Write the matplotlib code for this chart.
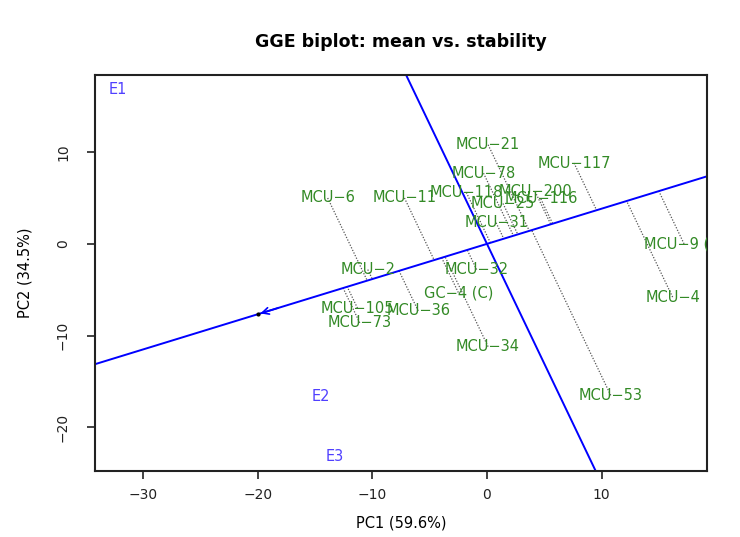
#!/usr/bin/env python3

import matplotlib
matplotlib.use("Agg")
import matplotlib.pyplot as plt
import numpy as np

# genotype scores (PC1, PC2)
genotypes = ["MCU-21", "MCU-78", "MCU-117", "MCU-6", "MCU-11", "MCU-118",
             "MCU-200", "MCU-116", "MCU-25", "MCU-31", "MCU-9 (C)", "MCU-4",
             "MCU-53", "MCU-2", "MCU-32", "GC-4 (C)", "MCU-105", "MCU-36",
             "MCU-73", "MCU-34"]
gen_pc1 = [0.1, -0.3, 7.6, -13.9, -7.2, -1.8, 4.2, 4.7, 1.4, 0.8, 17.2, 16.2,
           10.8, -10.4, -0.9, -2.5, -11.3, -6.0, -11.1, 0.1]
gen_pc2 = [10.8, 7.7, 8.8, 5.0, 5.0, 5.6, 5.7, 4.9, 4.4, 2.3, 0.0, -5.8,
           -16.5, -2.8, -2.8, -5.3, -7.0, -7.3, -8.6, -11.2]

# environment scores
environments = ["E1", "E2", "E3"]
env_pc1 = [-32.2, -14.5, -13.3]
env_pc2 = [16.8, -16.6, -23.2]

xticks = [-30, -20, -10, 0, 10]
yticks = [-20, -10, 0, 10]

GREEN = "#338a26"
BLUE = "#0000ff"
ENVCOL = "#5040ff"


def main():
    fig = plt.figure(figsize=(7.4, 5.37), dpi=100)
    ax = fig.add_axes([0.1284, 0.1229, 0.827, 0.7374])

    ax.set_xlim(-34.2, 19.2)
    ax.set_ylim(-24.75, 18.4)

    gx = np.array(gen_pc1)
    gy = np.array(gen_pc2)

    # average environment coordinate -> AEC axis
    mx = np.mean(env_pc1)
    my = np.mean(env_pc2)
    u = np.array([mx, my]) / np.hypot(mx, my)

    ax.axline((0, 0), (mx, my), color=BLUE, lw=1.4, zorder=2)
    ax.axline((0, 0), (-my, mx), color=BLUE, lw=1.4, zorder=2)
    ax.annotate("", xy=(mx, my), xytext=(mx * 0.9, my * 0.9),
                arrowprops=dict(arrowstyle="->", color=BLUE, lw=1.2,
                                mutation_scale=12))
    ax.plot([mx], [my], marker="o", ms=2, color="black", zorder=3)

    # projections of genotypes onto the AEC abscissa
    for x, y in zip(gx, gy):
        t = x * u[0] + y * u[1]
        ax.plot([x, t * u[0]], [y, t * u[1]], color="#555555", lw=0.9,
                dashes=(1, 1.3), zorder=1)

    # R draws the hyphen as a minus sign
    for name, x, y in zip(genotypes, gx, gy):
        ax.text(x, y, name.replace("-", "\u2212"), color=GREEN, fontsize=10.5,
                ha="center", va="center", clip_on=True, zorder=4)

    for name, x, y in zip(environments, env_pc1, env_pc2):
        ax.text(x, y, name, color=ENVCOL, fontsize=10.5, ha="center",
                va="center", clip_on=True, zorder=4)

    ax.set_xticks(xticks)
    ax.set_yticks(yticks)
    ax.set_yticklabels([str(v).replace("-", "\u2212") for v in yticks],
                       rotation=90, va="center")
    ax.tick_params(direction="out", length=6, width=1.2, labelsize=10,
                   colors="#222222", pad=6)
    ax.tick_params(axis="y", pad=12)
    for s in ax.spines.values():
        s.set_linewidth(1.5)
        s.set_color("#222222")

    ax.set_xlabel("PC1 (59.6%)", fontsize=10.5, labelpad=10)
    ax.set_ylabel("PC2 (34.5%)", fontsize=10.5, labelpad=17)
    ax.set_title("GGE biplot: mean vs. stability", fontsize=12.5,
                 fontweight="bold", pad=20)

    fig.savefig("out.png", dpi=100)


if __name__ == "__main__":
    main()
